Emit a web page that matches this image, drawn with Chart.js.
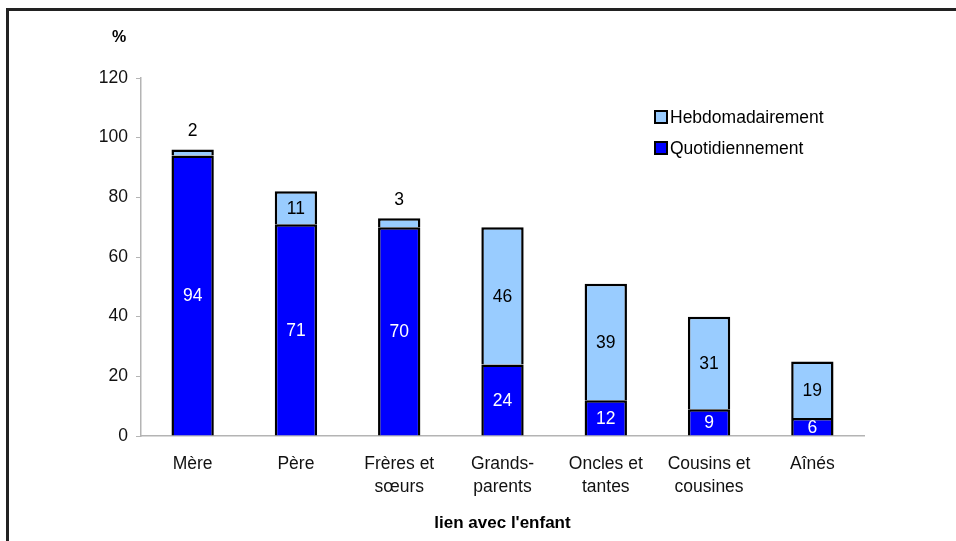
<!DOCTYPE html>
<html>
<head>
<meta charset="utf-8">
<script src="https://cdn.jsdelivr.net/npm/chart.js@4"></script>
<style>
  html, body { margin: 0; padding: 0; background: #fff; }
  #wrap { position: relative; width: 956px; height: 541px; overflow: hidden; }
  #frame {
    position: absolute; left: 6px; top: 8px; width: 960px; height: 560px;
    border-top: 3px solid #222; border-left: 3px solid #222; box-sizing: border-box;
  }
  canvas { position: absolute; left: 0; top: 0; }
</style>
</head>
<body>
<div id="wrap">
  <div id="frame"></div>
  <canvas id="chart" width="956" height="541"></canvas>
</div>
<script>
const categories = [
  ["Mère"],
  ["Père"],
  ["Frères et", "sœurs"],
  ["Grands-", "parents"],
  ["Oncles et", "tantes"],
  ["Cousins et", "cousines"],
  ["Aînés"],
];
const quotidiennement = [94, 71, 70, 24, 12, 9, 6];
const hebdomadairement = [2, 11, 3, 46, 39, 31, 19];
const yTicks = [0, 20, 40, 60, 80, 100, 120];

const FONT = "'Liberation Sans', Arial, sans-serif";

// value labels inside the bars, small ones above
const barLabels = {
  id: "barLabels",
  afterDatasetsDraw(chart) {
    const ctx = chart.ctx;
    ctx.save();
    ctx.font = "17.5px " + FONT;
    ctx.textAlign = "center";
    ctx.textBaseline = "middle";
    chart.data.datasets.forEach((ds, i) => {
      const meta = chart.getDatasetMeta(i);
      meta.data.forEach((bar, j) => {
        const v = ds.data[j];
        if (v < 5) {
          ctx.fillStyle = "#000";
          ctx.fillText(String(v), bar.x, bar.y - 18);
        } else {
          ctx.fillStyle = ds.labelColor;
          ctx.fillText(String(v), bar.x, (bar.y + bar.base) / 2 + 1);
        }
      });
    });
    ctx.restore();
  },
};

// "%" over the y axis and the legend box at top right
const extras = {
  id: "extras",
  afterDraw(chart) {
    const ctx = chart.ctx;
    ctx.save();
    ctx.font = "bold 16px " + FONT;
    ctx.fillStyle = "#000";
    ctx.textAlign = "center";
    ctx.textBaseline = "middle";
    ctx.fillText("%", 119, 38);

    const items = [chart.data.datasets[1], chart.data.datasets[0]];
    ctx.font = "17.5px " + FONT;
    ctx.textAlign = "left";
    items.forEach((ds, k) => {
      const y = 117 + k * 31;
      ctx.fillStyle = ds.backgroundColor;
      ctx.fillRect(655, y - 6, 12, 12);
      ctx.lineWidth = 2;
      ctx.strokeStyle = "#000";
      ctx.strokeRect(655, y - 6, 12, 12);
      ctx.fillStyle = "#000";
      ctx.fillText(ds.label, 670, y + 1);
    });
    ctx.restore();
  },
};

new Chart(document.getElementById("chart"), {
  type: "bar",
  data: {
    labels: categories,
    datasets: [
      {
        label: "Quotidiennement",
        data: quotidiennement,
        backgroundColor: "#0000FF",
        borderColor: "#000",
        borderWidth: 2.5,
        labelColor: "#fff",
      },
      {
        label: "Hebdomadairement",
        data: hebdomadairement,
        backgroundColor: "#99CCFF",
        borderColor: "#000",
        borderWidth: 2.5,
        labelColor: "#000",
      },
    ],
  },
  options: {
    responsive: false,
    animation: false,
    devicePixelRatio: 1,
    layout: { padding: { left: 0, right: 92, top: 78, bottom: 0 } },
    datasets: { bar: { barPercentage: 0.41, categoryPercentage: 1 } },
    plugins: { legend: { display: false }, tooltip: { enabled: false } },
    scales: {
      x: {
        stacked: true,
        grid: { display: false },
        border: { color: "#b4b4b4", width: 1.5 },
        ticks: {
          color: "#111",
          font: { family: FONT, size: 17.5, lineHeight: 1.32 },
          padding: 9,
          maxRotation: 0,
          autoSkip: false,
        },
        title: {
          display: true,
          text: "lien avec l'enfant",
          color: "#000",
          font: { family: FONT, size: 17, weight: "bold" },
          padding: { top: 0, bottom: 7 },
        },
        afterFit(scale) { scale.height = 105; },
      },
      y: {
        stacked: true,
        min: 0,
        max: 120,
        afterBuildTicks(scale) { scale.ticks = yTicks.map((v) => ({ value: v })); },
        grid: { drawOnChartArea: false, tickLength: 5, color: "#b4b4b4" },
        border: { color: "#b4b4b4", width: 1.5 },
        ticks: {
          color: "#111",
          font: { family: FONT, size: 17.5 },
          padding: 8,
        },
        afterFit(scale) { scale.width = 141; },
      },
    },
  },
  plugins: [barLabels, extras],
});
</script>
</body>
</html>
